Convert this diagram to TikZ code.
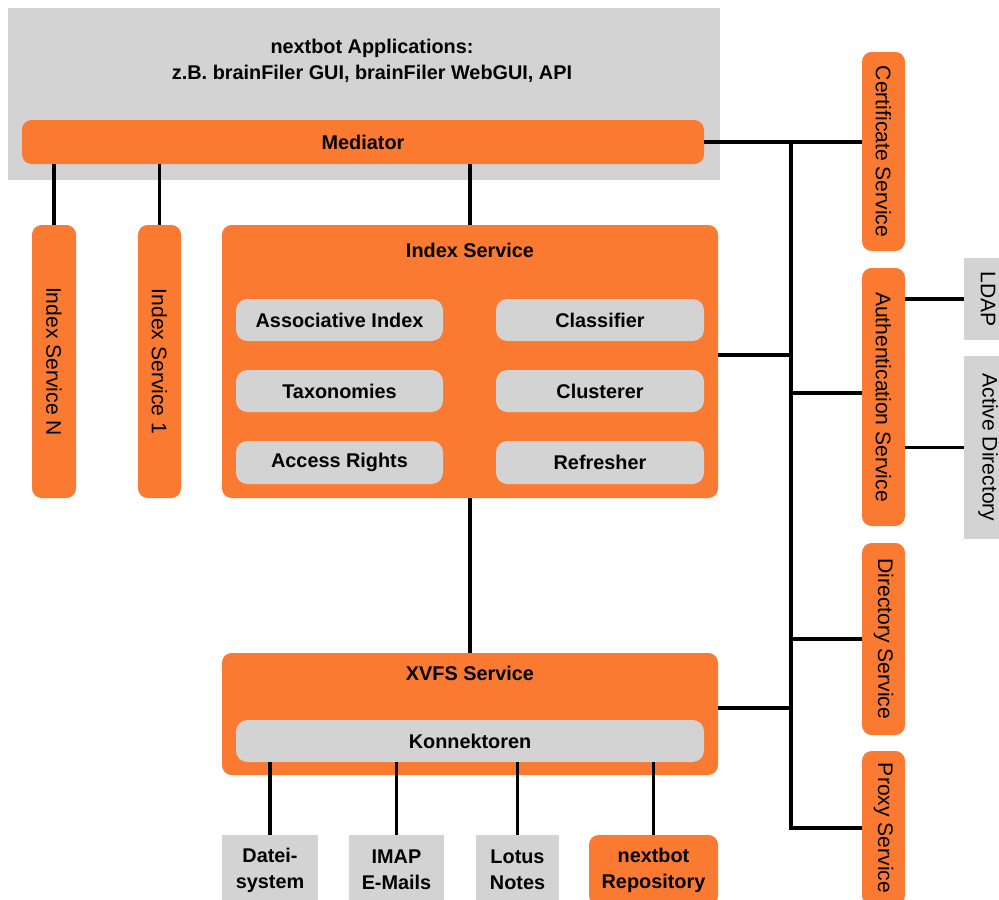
\documentclass[tikz,border=0pt]{standalone}
\usepackage{fontspec}
\setmainfont{Liberation Sans}
\usetikzlibrary{calc}
\definecolor{nbor}{HTML}{F97A30}
\definecolor{nbgr}{HTML}{D3D3D3}
\newcommand{\vtext}[1]{\rotatebox{-90}{\fontsize{12}{14}\selectfont\mdseries #1}}
\begin{document}
\begin{tikzpicture}[x=0.02cm,y=-0.02cm,
  font=\fontsize{11.3}{14.7}\selectfont\bfseries,
  span/.style n args={4}{minimum width={(#3-#1)*0.02cm}, minimum height={(#4-#2)*0.02cm}, at={({(#1+#3)/2},{(#2+#4)/2})}},
  obox/.style={fill=nbor, rounded corners=5.5pt, inner sep=0pt, align=center},
  gbox/.style={fill=nbgr, inner sep=0pt, align=center},
  grbox/.style={fill=nbgr, rounded corners=6.5pt, inner sep=0pt},
  conn/.style={line width=1.9pt, black}]
\useasboundingbox (0,0) rectangle (999,899);
% top application area
\node[gbox, span={8}{8}{720}{180}] (apps) {};
\node[align=center] (appt) at (372,61) {nextbot Applications:\\z.B. brainFiler GUI, brainFiler WebGUI, API};
\node[obox, span={22}{120}{704}{164}] (med) {Mediator};
% index services
\node[obox, span={32}{225}{76}{498}] (isn) {\vtext{Index Service N}};
\node[obox, span={138}{225}{181}{498}] (is1) {\vtext{Index Service 1}};
\node[obox, span={222}{225}{718}{498}] (idx) {};
\node (idxt) at (470,250) {Index Service};
\node[grbox, span={236}{299}{443}{341}] (assoc) {Associative Index};
\node[grbox, span={496}{299}{704}{341}] (class) {Classifier};
\node[grbox, span={236}{370}{443}{412}] (tax) {Taxonomies};
\node[grbox, span={496}{370}{704}{412}] (clus) {Clusterer};
\node[grbox, span={236}{441}{443}{484}] (acc) {Access Rights};
\node[grbox, span={496}{441}{704}{484}] (ref) {Refresher};
% XVFS
\node[obox, span={222}{653}{718}{775}] (xvfs) {};
\node (xvfst) at (470,673) {XVFS Service};
\node[grbox, span={236}{720}{704}{762}] (konn) {Konnektoren};
\node[gbox, span={222}{835}{318}{905}] (datei) {Datei-\\system};
\node[gbox, span={349}{835}{444}{905}] (imap) {IMAP\\E-Mails};
\node[gbox, span={476}{835}{559}{905}] (lotus) {Lotus\\Notes};
\node[obox, span={589}{835}{718}{905}] (repo) {nextbot\\Repository};
% right services
\node[obox, span={862}{52}{905}{251}] (cert) {\vtext{Certificate Service}};
\node[obox, span={862}{268}{905}{526}] (auth) {\vtext{Authentication Service}};
\node[obox, span={862}{543}{905}{735}] (dir) {\vtext{Directory Service}};
\node[obox, span={862}{751}{905}{905}] (prox) {\vtext{Proxy Service}};
\node[gbox, span={964}{258}{1012}{340}] (ldap) {\vtext{LDAP}};
\node[gbox, span={964}{356}{1012}{539}] (ad) {\vtext{Active Directory}};
% connectors
\draw[conn] (isn.north) -- (isn.north |- med.south);
\draw[conn] (is1.north) -- (is1.north |- med.south);
\draw[conn] (idx.north) -- (idx.north |- med.south);
\draw[conn] (idx.south) -- (xvfs.north);
\coordinate (bt) at (791,143);
\coordinate (bb) at (791,828);
\draw[conn] (med.east) -- (med.east -| cert.west);
\draw[conn] (bt) -- (bb) -- (bb -| prox.west);
\coordinate (iw) at ($(idx.north east)!0.476!(idx.south east)$);
\draw[conn] (iw) -- (iw -| bt);
\coordinate (aw) at ($(auth.north west)!0.484!(auth.south west)$);
\draw[conn] (aw) -- (aw -| bt);
\draw[conn] (dir.west) -- (dir.west -| bt);
\coordinate (xe) at ($(xvfs.north east)!0.45!(xvfs.south east)$);
\draw[conn] (xe) -- (xe -| bt);
\draw[conn] (ldap.west) -- (ldap.west -| auth.east);
\draw[conn] (ad.west) -- (ad.west -| auth.east);
\draw[conn] (datei.north) -- (datei.north |- konn.south);
\draw[conn] (imap.north) -- (imap.north |- konn.south);
\draw[conn] (lotus.north) -- (lotus.north |- konn.south);
\draw[conn] (repo.north) -- (repo.north |- konn.south);
\end{tikzpicture}
\end{document}
